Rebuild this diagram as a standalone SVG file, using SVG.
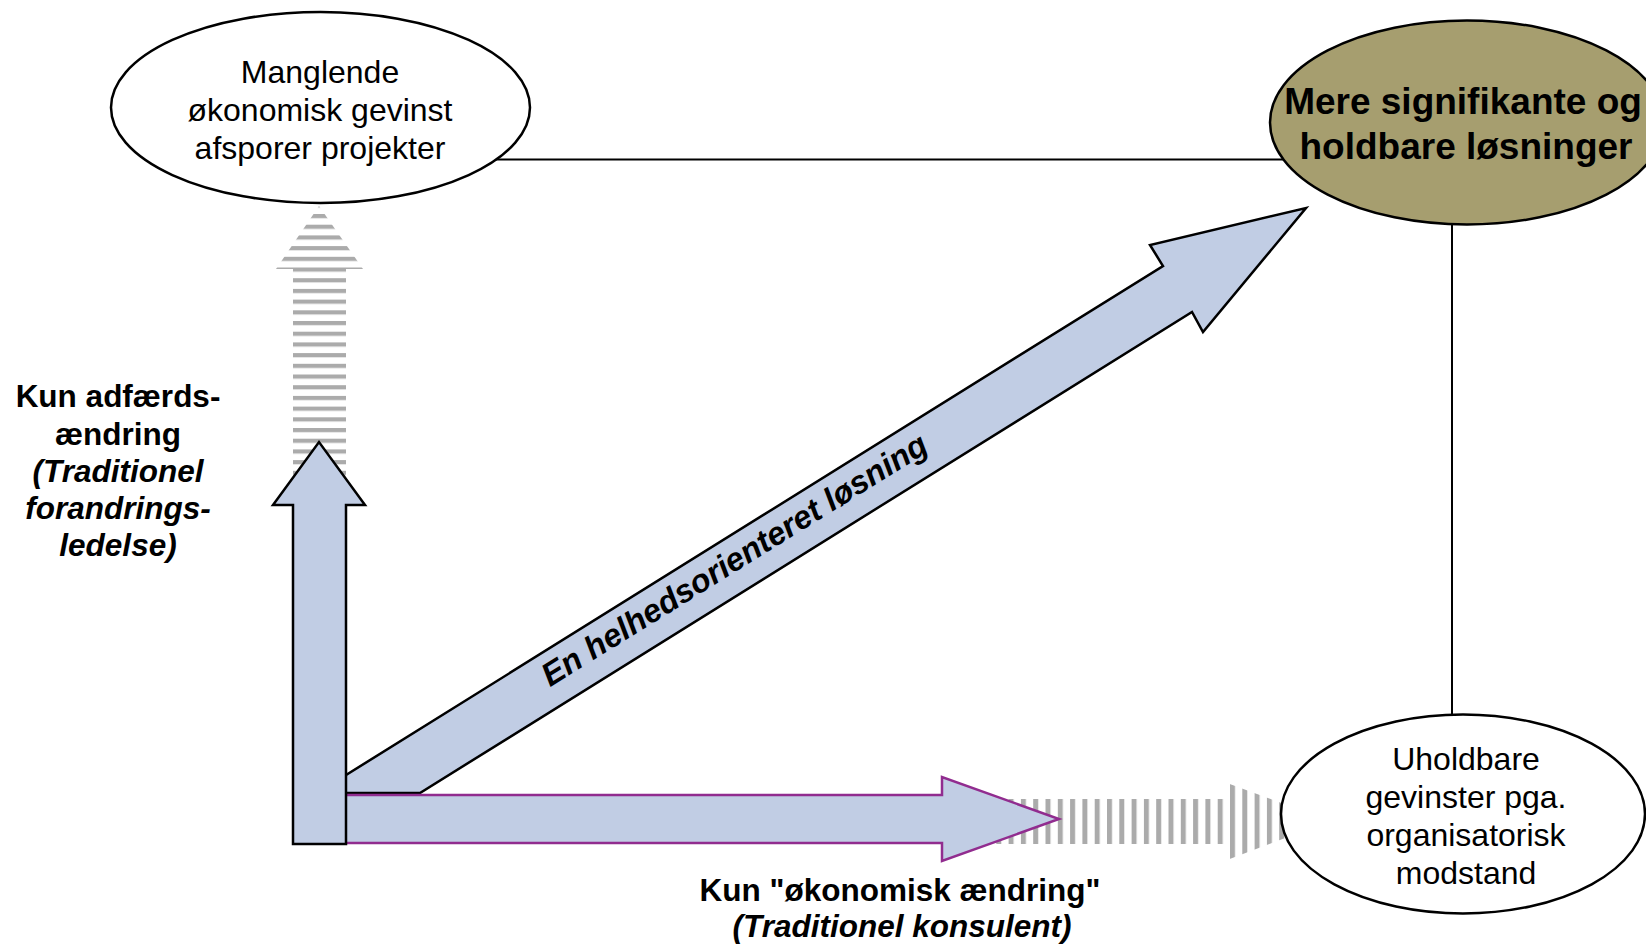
<svg xmlns="http://www.w3.org/2000/svg" width="1646" height="947" viewBox="0 0 1646 947">
<style>
.ell{fill:#ffffff;stroke:#000;stroke-width:2.5}
.t{font-family:"Liberation Sans",Arial,sans-serif;fill:#000;text-anchor:middle}
.reg{font-size:32px}
.bold{font-size:31.5px;font-weight:bold}
.bi{font-size:31.5px;font-weight:bold;font-style:italic}
.blue{fill:#C1CDE4;stroke:#000;stroke-width:2.5;stroke-linejoin:miter}
.line{stroke:#000;stroke-width:2;fill:none}
</style>
<defs>
<pattern id="hstripe" patternUnits="userSpaceOnUse" x="0" y="0" width="20" height="10.7">
<rect x="0" y="0" width="20" height="4.2" fill="#ABABAB"/>
</pattern>
<pattern id="vstripe" patternUnits="userSpaceOnUse" x="0" y="0" width="12.3" height="20">
<rect x="0" y="0" width="5" height="20" fill="#ABABAB"/>
</pattern>
</defs>
<rect width="1646" height="947" fill="#ffffff"/>

<g id="connectors">
<line class="line" x1="480" y1="159.5" x2="1300" y2="159.5"/>
<line class="line" x1="1452" y1="215" x2="1452" y2="720"/>
</g>

<g id="gray-arrow-up">
<polygon points="293,520 293,269 276,269 319,206 363,269 346,269 346,520" fill="url(#hstripe)"/>
</g>
<g id="gray-arrow-right">
<polygon points="900,799 1227,799 1227,783 1330,821 1227,860 1227,844 900,844" fill="url(#vstripe)"/>
</g>

<g id="arrow-diagonal">
<polygon class="blue" points="330,785 1163,266 1150,245 1306,208 1203,332 1192,312 420,793 330,793"/>
<text class="t" style="font-size:32.5px;font-weight:bold;font-style:italic" transform="translate(740,569) rotate(-31.9)" x="0" y="0">En helhedsorienteret løsning</text>
</g>

<g id="arrow-horizontal">
<polygon points="330,795 942,795 942,777 1059,819 942,861 942,843 330,843" fill="#C1CDE4" stroke="#912C8F" stroke-width="2.5"/>
</g>

<g id="arrow-vertical">
<polygon class="blue" points="293,844 293,505 273,505 319,442 365,505 346,505 346,844"/>
</g>

<g id="node-manglende">
<ellipse class="ell" cx="320.5" cy="107.5" rx="209.5" ry="95.5"/>
<text class="t reg" x="320" y="83">Manglende</text>
<text class="t reg" x="320" y="121">økonomisk gevinst</text>
<text class="t reg" x="320" y="159">afsporer projekter</text>
</g>

<g id="node-mere">
<ellipse cx="1467" cy="122.5" rx="197" ry="102" fill="#A69E6F" stroke="#000" stroke-width="2.5"/>
<text class="t" style="font-size:37px;font-weight:bold" x="1463" y="114">Mere signifikante og</text>
<text class="t" style="font-size:37px;font-weight:bold" x="1466" y="159">holdbare løsninger</text>
</g>

<g id="node-uholdbare">
<ellipse class="ell" cx="1463" cy="814" rx="182" ry="99.5"/>
<text class="t reg" x="1466" y="770">Uholdbare</text>
<text class="t reg" x="1466" y="808">gevinster pga.</text>
<text class="t reg" x="1466" y="846">organisatorisk</text>
<text class="t reg" x="1466" y="884">modstand</text>
</g>

<g id="label-adfaerd">
<text class="t bold" x="118" y="407">Kun adfærds-</text>
<text class="t bold" x="118" y="445">ændring</text>
<text class="t bi" x="118" y="482">(Traditionel</text>
<text class="t bi" x="118" y="519">forandrings-</text>
<text class="t bi" x="118" y="556">ledelse)</text>
</g>

<g id="label-oekonomisk">
<text class="t bold" x="900" y="901">Kun "økonomisk ændring"</text>
<text class="t bi" x="902" y="937">(Traditionel konsulent)</text>
</g>
</svg>
